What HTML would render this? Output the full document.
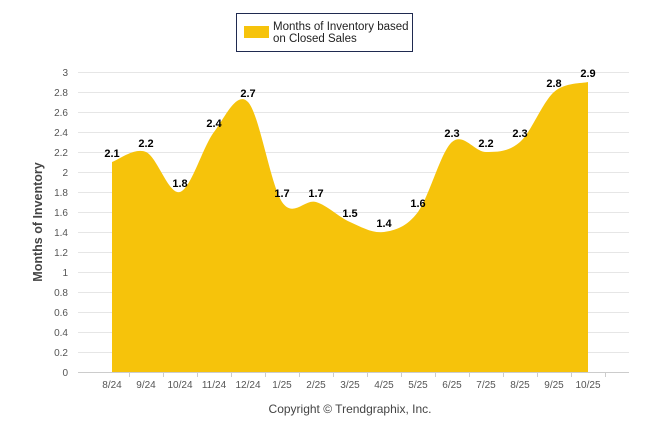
<!DOCTYPE html>
<html><head><meta charset="utf-8"><style>
body{margin:0;background:#fff;font-family:"Liberation Sans",sans-serif}
</style></head><body>
<svg id="chart" width="646" height="434" viewBox="0 0 646 434">
<g>
<rect x="236.5" y="13.5" width="176" height="38" fill="#fff" stroke="#1f2a50" stroke-width="1"/>
<rect x="244" y="26" width="25" height="12" fill="#f6c30b"/>
<text x="273" y="30" font-size="11.5" fill="#222"><tspan x="273">Months of Inventory based</tspan><tspan x="273" dy="12">on Closed Sales</tspan></text>
</g>
<g id="grid"></g>
<path id="area" fill="#f6c30b"/>
<g id="labels"></g>
<text transform="translate(42,222) rotate(-90)" text-anchor="middle" font-size="12.5" font-weight="bold" fill="#444">Months of Inventory</text>
<text x="350" y="413" text-anchor="middle" font-size="12" fill="#444">Copyright © Trendgraphix, Inc.</text>
</svg>
<script>
const categories=["8/24","9/24","10/24","11/24","12/24","1/25","2/25","3/25","4/25","5/25","6/25","7/25","8/25","9/25","10/25"];
const values=[2.1,2.2,1.8,2.4,2.7,1.7,1.7,1.5,1.4,1.6,2.3,2.2,2.3,2.8,2.9];
const yTicks=[0,0.2,0.4,0.6,0.8,1,1.2,1.4,1.6,1.8,2,2.2,2.4,2.6,2.8,3];
const NS="http://www.w3.org/2000/svg";
const x0=112,dx=34,yBase=372,yScale=100,gl=78,gr=629;
const X=i=>x0+i*dx, Y=v=>yBase-v*yScale;
const grid=document.getElementById('grid');
function mk(t,a,p){const e=document.createElementNS(NS,t);for(const k in a)e.setAttribute(k,a[k]);p.appendChild(e);return e;}
yTicks.forEach(v=>{
 const l=mk('line',{x1:gl,x2:gr,y1:Y(v)+.5,y2:Y(v)+.5,stroke:v===0?'#ccc':'#e6e6e6'},grid);
 
 
 const t=mk('text',{x:68,y:Y(v)+4,'text-anchor':'end','font-size':'10',fill:'#555'},grid);
 t.textContent=String(v);
 
 
});
categories.forEach((c,i)=>{
 const t=mk('text',{x:X(i),y:388,'text-anchor':'middle','font-size':'10',fill:'#555'},grid);
 t.textContent=c;
 
 
 const tk=mk('line',{x1:X(i)+dx/2+.5,x2:X(i)+dx/2+.5,y1:372,y2:377,stroke:'#ccc'},grid);
 
 
});
const pts=values.map((v,i)=>[X(i),Y(v)]);
let d=`M${pts[0][0]},${yBase} L${pts[0][0]},${pts[0][1]}`;
const s=1/3;
for(let i=0;i<pts.length-1;i++){
 const p0=pts[Math.max(0,i-1)],p1=pts[i],p2=pts[i+1],p3=pts[Math.min(pts.length-1,i+2)];
 const c1=[p1[0]+(p2[0]-p0[0])*s/2*1.0,p1[1]+(p2[1]-p0[1])*s/2*1.0];
 const c2=[p2[0]-(p3[0]-p1[0])*s/2*1.0,p2[1]-(p3[1]-p1[1])*s/2*1.0];
 d+=` C${c1[0]},${c1[1]} ${c2[0]},${c2[1]} ${p2[0]},${p2[1]}`;
}
d+=` L${pts[pts.length-1][0]},${yBase} Z`;
document.getElementById('area').setAttribute('d',d);
const lab=document.getElementById('labels');
values.forEach((v,i)=>{
 const t=mk('text',{x:X(i),y:Y(v)-5,'text-anchor':'middle','font-size':'11','font-weight':'bold',fill:'#000'},lab);
 t.textContent=v.toFixed(1);
 
 
});
</script>
</body></html>
